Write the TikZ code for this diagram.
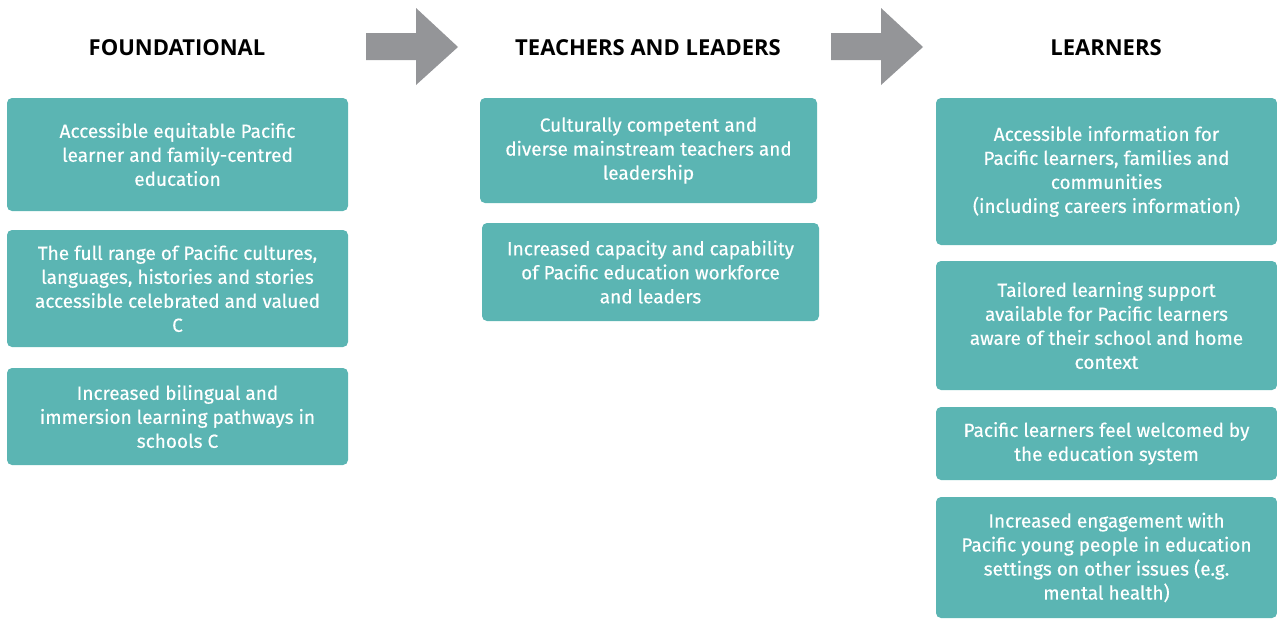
\documentclass[tikz,border=0pt]{standalone}
\usepackage{fontspec}
\setmainfont{Fira Sans}[FakeBold=0.35]
\newfontfamily\titlefont{Open Sans}
\definecolor{teal}{HTML}{5BB5B3}
\definecolor{arrowgray}{HTML}{949598}
\begin{document}
\begin{tikzpicture}[x=1pt,y=-1pt,
  box/.style={fill=teal, rounded corners=5pt, text=white, align=center, inner sep=0pt,
    font=\fontsize{19}{24}\selectfont},
  title/.style={font=\titlefont\bfseries\fontsize{22}{24}\selectfont, text=black, inner sep=0pt},
  bigarrow/.style={fill=arrowgray}]
\useasboundingbox (0,0) rectangle (1277,619);
% titles
\node[title] (t1) at (177,47.5) {FOUNDATIONAL};
\node[title] (t2) at (648,47.5) {TEACHERS AND LEADERS};
\node[title] (t3) at (1106,47.5) {LEARNERS};
% arrows
\fill[bigarrow] (366,33) -- (416,33) -- (416,8) -- (458,47) -- (416,85) -- (416,60) -- (366,60) -- cycle;
\fill[bigarrow] (831,33) -- (881,33) -- (881,8) -- (923,47) -- (881,85) -- (881,60) -- (831,60) -- cycle;
% column 1
\node[box, minimum width=341pt, minimum height=113pt] (f1) at (177.5,154.5)
  {Accessible equitable Pacific\\learner and family-centred\\education};
\node[box, minimum width=341pt, minimum height=117pt] (f2) at (177.5,288.5)
  {The full range of Pacific cultures,\\languages, histories and stories\\accessible celebrated and valued\\C};
\node[box, minimum width=341pt, minimum height=97pt] (f3) at (177.5,416.5)
  {Increased bilingual and\\immersion learning pathways in\\schools C};
% column 2
\node[box, minimum width=337pt, minimum height=105pt] (c1) at (648.5,150.5)
  {Culturally competent and\\diverse mainstream teachers and\\leadership};
\node[box, minimum width=337pt, minimum height=98pt] (c2) at (650.5,272)
  {Increased capacity and capability\\of Pacific education workforce\\and leaders};
% column 3
\node[box, minimum width=341pt, minimum height=147pt] (l1) at (1106.5,171.5)
  {Accessible information for\\Pacific learners, families and\\communities\\(including careers information)};
\node[box, minimum width=341pt, minimum height=129pt] (l2) at (1106.5,325.5)
  {Tailored learning support\\available for Pacific learners\\aware of their school and home\\context};
\node[box, minimum width=341pt, minimum height=73pt] (l3) at (1106.5,443.5)
  {Pacific learners feel welcomed by\\the education system};
\node[box, minimum width=341pt, minimum height=121pt] (l4) at (1106.5,557.5)
  {Increased engagement with\\Pacific young people in education\\settings on other issues (e.g.\\mental health)};
\end{tikzpicture}
\end{document}
